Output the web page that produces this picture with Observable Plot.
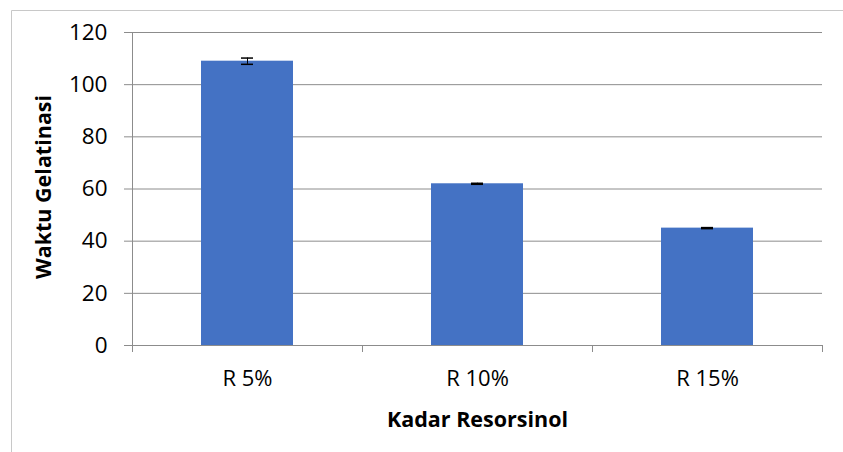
<!DOCTYPE html>
<html>
<head>
<meta charset="utf-8">
<script src="https://cdn.jsdelivr.net/npm/d3@7"></script>
<script src="https://cdn.jsdelivr.net/npm/@observablehq/plot@0.6"></script>
<style>
  html, body { margin: 0; padding: 0; background: #fff; }
</style>
</head>
<body>
<div id="chart"></div>
<script>
const categories = ["R 5%", "R 10%", "R 15%"];
const values = [109, 62, 45];
const errors = [1.2, 0.2, 0.2];
const yTicks = [0, 20, 40, 60, 80, 100, 120];
const xTitle = "Kadar Resorsinol";
const yTitle = "Waktu Gelatinasi";

const data = categories.map((c, i) => ({cat: c, value: values[i], err: errors[i]}));

const W = 843, H = 452, mL = 132, mR = 21, mT = 32, mB = 107;
const step = (W - mL - mR) / categories.length;
const grey = "#8c8c8c";
const capInset = (step * 0.4 - 12) / 2;

const chart = Plot.plot({
  width: W, height: H,
  marginLeft: mL, marginRight: mR, marginTop: mT, marginBottom: mB,
  style: {fontFamily: "'Open Sans', Lato, sans-serif", fontSize: "22px", color: "#000", background: "#fff", overflow: "visible"},
  x: {domain: categories, paddingInner: 0.6, paddingOuter: 0.3, label: null},
  y: {domain: [0, 120], label: null},
  marks: [
    Plot.gridY(yTicks, {stroke: grey, strokeOpacity: 1, strokeWidth: 1}),
    Plot.axisY(yTicks, {tickSize: 8, tickPadding: 17, stroke: grey, strokeOpacity: 1, label: null, fontSize: 22.5, fill: "#000"}),
    Plot.axisX(categories, {tickSize: 0, tickPadding: 25, label: null, fontSize: 22, fill: "#000"}),
    // y axis line + category boundary ticks
    Plot.ruleX([categories[0]], {x: d => d, dx: -step / 2, y1: 120, y2: 0, insetBottom: -7, stroke: grey, strokeOpacity: 1}),
    Plot.ruleX(categories, {x: d => d, dx: step / 2, y1: 0, y2: 0, insetBottom: -7, stroke: grey, strokeOpacity: 1}),
    Plot.barY(data, {x: "cat", y: "value", fill: "#4472C4"}),
    Plot.ruleX(data, {x: "cat", y1: d => d.value - d.err, y2: d => d.value + d.err, stroke: "#000", strokeWidth: 1}),
    Plot.tickY(data, {x: "cat", y: d => d.value + d.err, insetLeft: capInset, insetRight: capInset, stroke: "#000", strokeWidth: 1.5}),
    Plot.tickY(data, {x: "cat", y: d => d.value - d.err, insetLeft: capInset, insetRight: capInset, stroke: "#000", strokeWidth: 1.5}),
    Plot.text([xTitle], {frameAnchor: "bottom", dy: 75, text: d => d, fontWeight: "bold", fontSize: 21.5, textAnchor: "middle", lineAnchor: "middle", fill: "#000"}),
    Plot.text([yTitle], {frameAnchor: "left", dx: -88, dy: -2, text: d => d, rotate: -90, fontWeight: "bold", fontSize: 21.5, textAnchor: "middle", lineAnchor: "middle", fill: "#000"})
  ]
});

// light chart-area border (top and left edges visible in the reference)
d3.select(chart).insert("path", ":first-child")
  .attr("d", `M11.5,${H} V10.5 H${W}`)
  .attr("fill", "none")
  .attr("stroke", "#c8c8c8")
  .attr("stroke-width", 1);

document.getElementById("chart").appendChild(chart);
</script>
</body>
</html>
